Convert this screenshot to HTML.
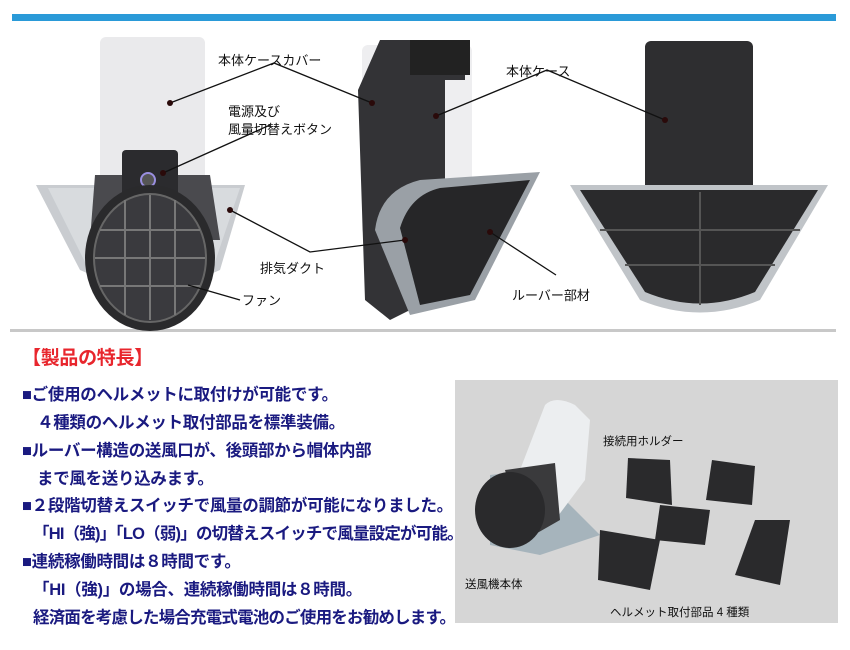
<!DOCTYPE html>
<html><head><meta charset="utf-8"><style>
body{margin:0;width:850px;height:650px;background:#fff;overflow:hidden;font-family:"Liberation Sans","Noto Sans CJK JP",sans-serif}
svg{position:absolute;left:0;top:0}
.t{position:absolute;font-weight:bold;color:#1a1a80;font-size:16.5px;white-space:nowrap;letter-spacing:-0.3px}
</style></head><body>
<svg width="850" height="650" viewBox="0 0 850 650" font-family="Liberation Sans, Noto Sans CJK JP, sans-serif">
<rect x="12" y="14" width="824" height="7" fill="#2a9ad8"/>
<rect x="10" y="329" width="826" height="3" fill="#c8c8c8"/>
<path d="M36 185 L245 185 L220 270 L150 300 L80 270 Z" fill="#c9ccd0"/>
<path d="M48 188 L240 188 L215 262 L150 290 L85 262Z" fill="#d8dbde"/>
<rect x="100" y="37" width="105" height="240" rx="6" fill="#eaeaec"/>
<path d="M95 175 L210 175 L220 240 L90 240Z" fill="#4a4a4e"/>
<rect x="122" y="150" width="56" height="52" rx="4" fill="#2b2b2e"/>
<circle cx="148" cy="180" r="7" fill="#555" stroke="#9a8fe0" stroke-width="2"/>
<ellipse cx="150" cy="258" rx="65" ry="73" fill="#2a2a2c"/>
<ellipse cx="150" cy="258" rx="56" ry="64" fill="#3a3a3e" stroke="#666" stroke-width="2"/>
<g stroke="#777" stroke-width="2"><line x1="100" y1="230" x2="200" y2="230"/><line x1="95" y1="258" x2="205" y2="258"/><line x1="100" y1="286" x2="200" y2="286"/><line x1="125" y1="200" x2="125" y2="315"/><line x1="150" y1="195" x2="150" y2="320"/><line x1="175" y1="200" x2="175" y2="315"/></g>
<rect x="362" y="45" width="110" height="190" rx="6" fill="#eeeef0"/>
<path d="M380 40 L465 40 L465 80 L445 80 L445 190 L430 300 L390 320 L365 300 L358 90 Z" fill="#333336"/>
<path d="M410 40 L470 40 L470 75 L410 75Z" fill="#222"/>
<path d="M375 230 Q380 190 420 180 L540 172 L475 300 L410 315 Z" fill="#9aa0a6"/>
<path d="M400 228 Q410 195 440 188 L530 180 L470 295 L420 305 Z" fill="#262628"/>
<rect x="645" y="41" width="108" height="150" rx="6" fill="#2e2e30"/>
<path d="M570 185 L828 185 L760 300 Q700 325 640 300 Z" fill="#c0c4c8"/>
<path d="M580 190 L818 190 L755 292 Q700 315 645 292 Z" fill="#2a2a2c"/>
<g stroke="#555" stroke-width="2"><line x1="700" y1="192" x2="700" y2="305"/><line x1="600" y1="230" x2="800" y2="230"/><line x1="625" y1="265" x2="775" y2="265"/></g>
<g stroke="#111" stroke-width="1.3" fill="none">
<polyline points="170,103 274,63 372,103"/>
<polyline points="163,173 270,125"/>
<polyline points="230,210 310,252 405,240"/>
<polyline points="188,285 240,300"/>
<polyline points="436,116 547,70 665,120"/>
<polyline points="490,232 556,275"/>
</g>
<g fill="#2a0a0a"><circle cx="170" cy="103" r="3"/><circle cx="372" cy="103" r="3"/><circle cx="163" cy="173" r="3"/><circle cx="230" cy="210" r="3"/><circle cx="405" cy="240" r="3"/><circle cx="436" cy="116" r="3"/><circle cx="665" cy="120" r="3"/><circle cx="490" cy="232" r="3"/></g>
<g font-size="13" fill="#111">
<text x="218" y="65">本体ケースカバー</text>
<text x="228" y="116">電源及び</text>
<text x="228" y="134">風量切替えボタン</text>
<text x="506" y="76">本体ケース</text>
<text x="260" y="273">排気ダクト</text>
<text x="242" y="305">ファン</text>
<text x="512" y="300">ルーバー部材</text>
</g>
<rect x="455" y="380" width="383" height="243" fill="#d6d6d6"/>
<path d="M490 475 L535 470 L600 535 L540 555 L490 545Z" fill="#a6b4bc"/>
<path d="M520 470 L545 405 Q555 395 575 405 L590 420 L585 480 L555 520 Z" fill="#eceef0"/>
<path d="M505 470 L555 463 L560 520 L525 540Z" fill="#3a3a3c"/>
<ellipse cx="510" cy="510" rx="35" ry="38" fill="#2a2a2c"/>
<g fill="#2a2a2c">
<path d="M628 458 L670 460 L672 505 L626 498Z"/>
<path d="M712 460 L755 466 L752 505 L706 500Z"/>
<path d="M660 505 L710 510 L705 545 L655 540Z"/>
<path d="M600 530 L660 540 L650 590 L598 580Z"/>
<path d="M755 520 L790 520 L780 585 L735 575Z"/>
</g>
<g font-size="11.5" fill="#111">
<text x="603" y="445">接続用ホルダー</text>
<text x="465" y="588">送風機本体</text>
<text x="610" y="616">ヘルメット取付部品 4 種類</text>
</g>
</svg>
<div class="t" style="left:22px;top:343px;color:#e8262d;font-size:19px">【製品の特長】</div>
<div class="t" style="left:22px;top:381px">■ご使用のヘルメットに取付けが可能です。</div>
<div class="t" style="left:37px;top:409px">４種類のヘルメット取付部品を標準装備。</div>
<div class="t" style="left:22px;top:437px">■ルーバー構造の送風口が、後頭部から帽体内部</div>
<div class="t" style="left:37px;top:465px">まで風を送り込みます。</div>
<div class="t" style="left:22px;top:492px">■２段階切替えスイッチで風量の調節が可能になりました。</div>
<div class="t" style="left:33px;top:520px;letter-spacing:-0.8px">「HI（強)」「LO（弱)」の切替えスイッチで風量設定が可能。</div>
<div class="t" style="left:22px;top:548px">■連続稼働時間は８時間です。</div>
<div class="t" style="left:33px;top:576px">「HI（強)」の場合、連続稼働時間は８時間。</div>
<div class="t" style="left:33px;top:604px;letter-spacing:-0.8px">経済面を考慮した場合充電式電池のご使用をお勧めします。</div>
</body></html>
